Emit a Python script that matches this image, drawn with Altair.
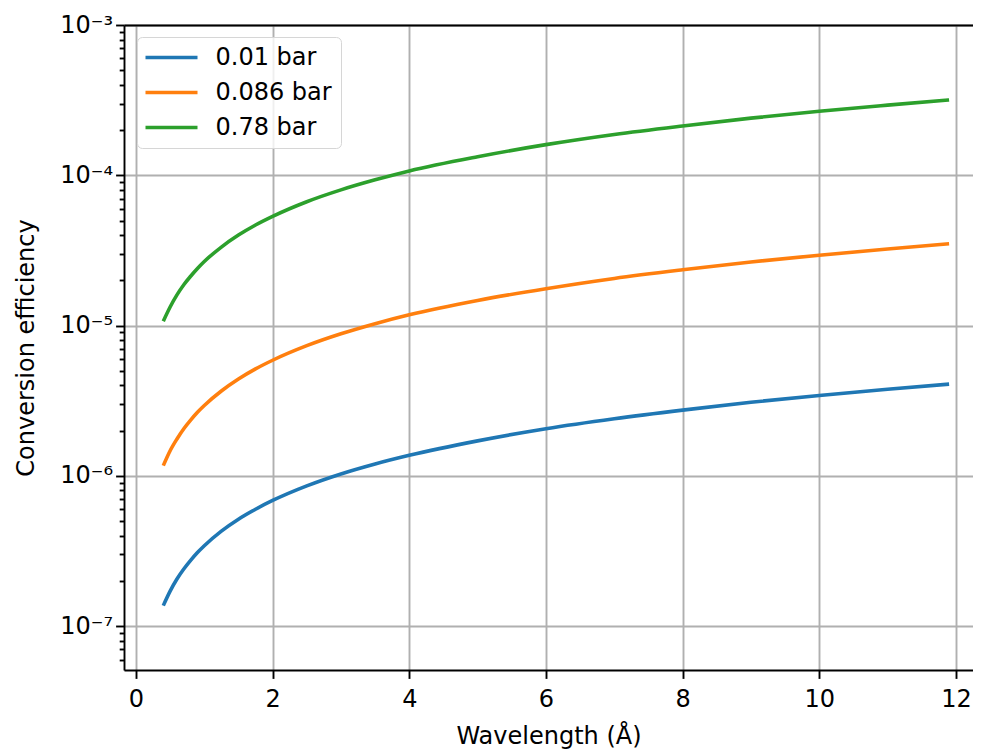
import altair as alt
import pandas as pd

# Values
wavelength = [0.4, 0.5, 0.6, 0.7, 0.8, 0.9, 1.0, 1.25, 1.5, 1.75, 2.0, 2.5, 3.0, 3.5, 4.0, 5.0, 6.0, 7.0, 8.0, 9.0, 10.0, 11.0, 11.9]
eff_001 = [1.37e-7, 1.71e-7, 2.06e-7, 2.4e-7, 2.74e-7, 3.09e-7, 3.43e-7, 4.29e-7, 5.15e-7, 6.0e-7, 6.86e-7,
           8.58e-7, 1.03e-6, 1.2e-6, 1.37e-6, 1.71e-6, 2.06e-6, 2.4e-6, 2.74e-6, 3.09e-6, 3.43e-6, 3.77e-6, 4.08e-6]
eff_0086 = [1.17e-6, 1.47e-6, 1.76e-6, 2.06e-6, 2.35e-6, 2.65e-6, 2.94e-6, 3.67e-6, 4.41e-6, 5.15e-6, 5.88e-6,
            7.35e-6, 8.82e-6, 1.03e-5, 1.18e-5, 1.47e-5, 1.76e-5, 2.06e-5, 2.35e-5, 2.65e-5, 2.94e-5, 3.23e-5, 3.5e-5]
eff_078 = [1.07e-5, 1.33e-5, 1.6e-5, 1.87e-5, 2.13e-5, 2.4e-5, 2.67e-5, 3.33e-5, 4.0e-5, 4.67e-5, 5.33e-5,
           6.67e-5, 8.0e-5, 9.33e-5, 1.07e-4, 1.33e-4, 1.6e-4, 1.87e-4, 2.13e-4, 2.4e-4, 2.67e-4, 2.93e-4, 3.17e-4]
series_names = ["0.01 bar", "0.086 bar", "0.78 bar"]
series_colors = ["#1f77b4", "#ff7f0e", "#2ca02c"]
x_ticks = [0, 2, 4, 6, 8, 10, 12]
y_ticks = [6e-8, 7e-8, 8e-8, 9e-8,
           1e-7, 2e-7, 3e-7, 4e-7, 5e-7, 6e-7, 7e-7, 8e-7, 9e-7,
           1e-6, 2e-6, 3e-6, 4e-6, 5e-6, 6e-6, 7e-6, 8e-6, 9e-6,
           1e-5, 2e-5, 3e-5, 4e-5, 5e-5, 6e-5, 7e-5, 8e-5, 9e-5,
           1e-4, 2e-4, 3e-4, 4e-4, 5e-4, 6e-4, 7e-4, 8e-4, 9e-4,
           1e-3]

rows = []
for name, vals in zip(series_names, [eff_001, eff_0086, eff_078]):
    for w, v in zip(wavelength, vals):
        rows.append({"wl": w, "eff": v, "series": name})
df = pd.DataFrame(rows)

FONT = "DejaVu Sans"
is_decade = "abs(log(datum.value)/LN10 - round(log(datum.value)/LN10)) < 0.01"
exp_ = "round(log(datum.value)/LN10)"
label_expr = (
    f"({is_decade}) ? ("
    f"{exp_} == -3 ? '10⁻³' : {exp_} == -4 ? '10⁻⁴' : {exp_} == -5 ? '10⁻⁵' : "
    f"{exp_} == -6 ? '10⁻⁶' : {exp_} == -7 ? '10⁻⁷' : '10⁻⁸') : ''"
)

x_scale = alt.Scale(domain=[-0.175, 12.25], nice=False, zero=False)
y_scale = alt.Scale(type="log", domain=[5.11e-8, 1e-3], nice=False)

lines = alt.Chart(df).mark_line(strokeWidth=3.6, clip=True, interpolate="monotone").encode(
    x=alt.X("wl:Q", scale=x_scale,
            axis=alt.Axis(values=x_ticks, title="Wavelength (Å)", grid=True,
                          gridColor="#b0b0b0", gridWidth=1.9,
                          domainColor="black", domainWidth=1.9,
                          tickColor="black", tickWidth=1.9, tickSize=8.4,
                          labelFontSize=24, labelPadding=9, labelColor="black",
                          labelFont=FONT, titleFont=FONT, titleFontSize=24,
                          titleFontWeight="normal", titleColor="black",
                          titleBaseline="alphabetic", titleY=73)),
    y=alt.Y("eff:Q", scale=y_scale,
            axis=alt.Axis(values=y_ticks, labelExpr=label_expr,
                          title="Conversion efficiency", grid=True,
                          gridColor="#b0b0b0", gridWidth=1.9,
                          gridOpacity={"condition": {"test": is_decade, "value": 1}, "value": 0},
                          tickSize={"condition": {"test": is_decade, "value": 8.4}, "value": 4.8},
                          domainColor="black", domainWidth=1.9,
                          tickColor="black", tickWidth=1.9,
                          labelFontSize=24, labelPadding=3, labelColor="black",
                          labelFont=FONT, titleFont=FONT, titleFontSize=24,
                          titleFontWeight="normal", titleColor="black",
                          titleBaseline="alphabetic", titleX=-91, titleY=322.5,
                          titleAngle=270)),
    color=alt.Color("series:N",
                    scale=alt.Scale(domain=series_names, range=series_colors),
                    sort=series_names,
                    legend=alt.Legend(title=None, orient="none", legendX=13, legendY=12,
                                      symbolType="M-1.2,0H4", symbolSize=400,
                                      symbolStrokeWidth=3.6, labelFontSize=24,
                                      labelFont=FONT, labelColor="black",
                                      labelOffset=46, padding=8.5, rowPadding=11,
                                      cornerRadius=5, strokeColor="#d6d6d6",
                                      fillColor="rgba(255,255,255,0.8)")),
)

top = alt.Chart(df).mark_line(opacity=0).encode(
    x=alt.X("wl:Q", scale=x_scale,
            axis=alt.Axis(orient="top", labels=False, ticks=False, grid=False, title=None,
                          domainColor="black", domainWidth=1.9)),
    y=alt.Y("eff:Q", scale=y_scale),
)

chart = alt.layer(lines, top).resolve_axis(x="independent").properties(
    width=849, height=645,
    autosize=alt.AutoSizeParams(type="none"),
    padding={"left": 116, "top": 17, "right": 0, "bottom": 84},
).configure_view(stroke=None).configure(background="white")

chart.save("out.html", embed_options={"renderer": "svg", "actions": False})
